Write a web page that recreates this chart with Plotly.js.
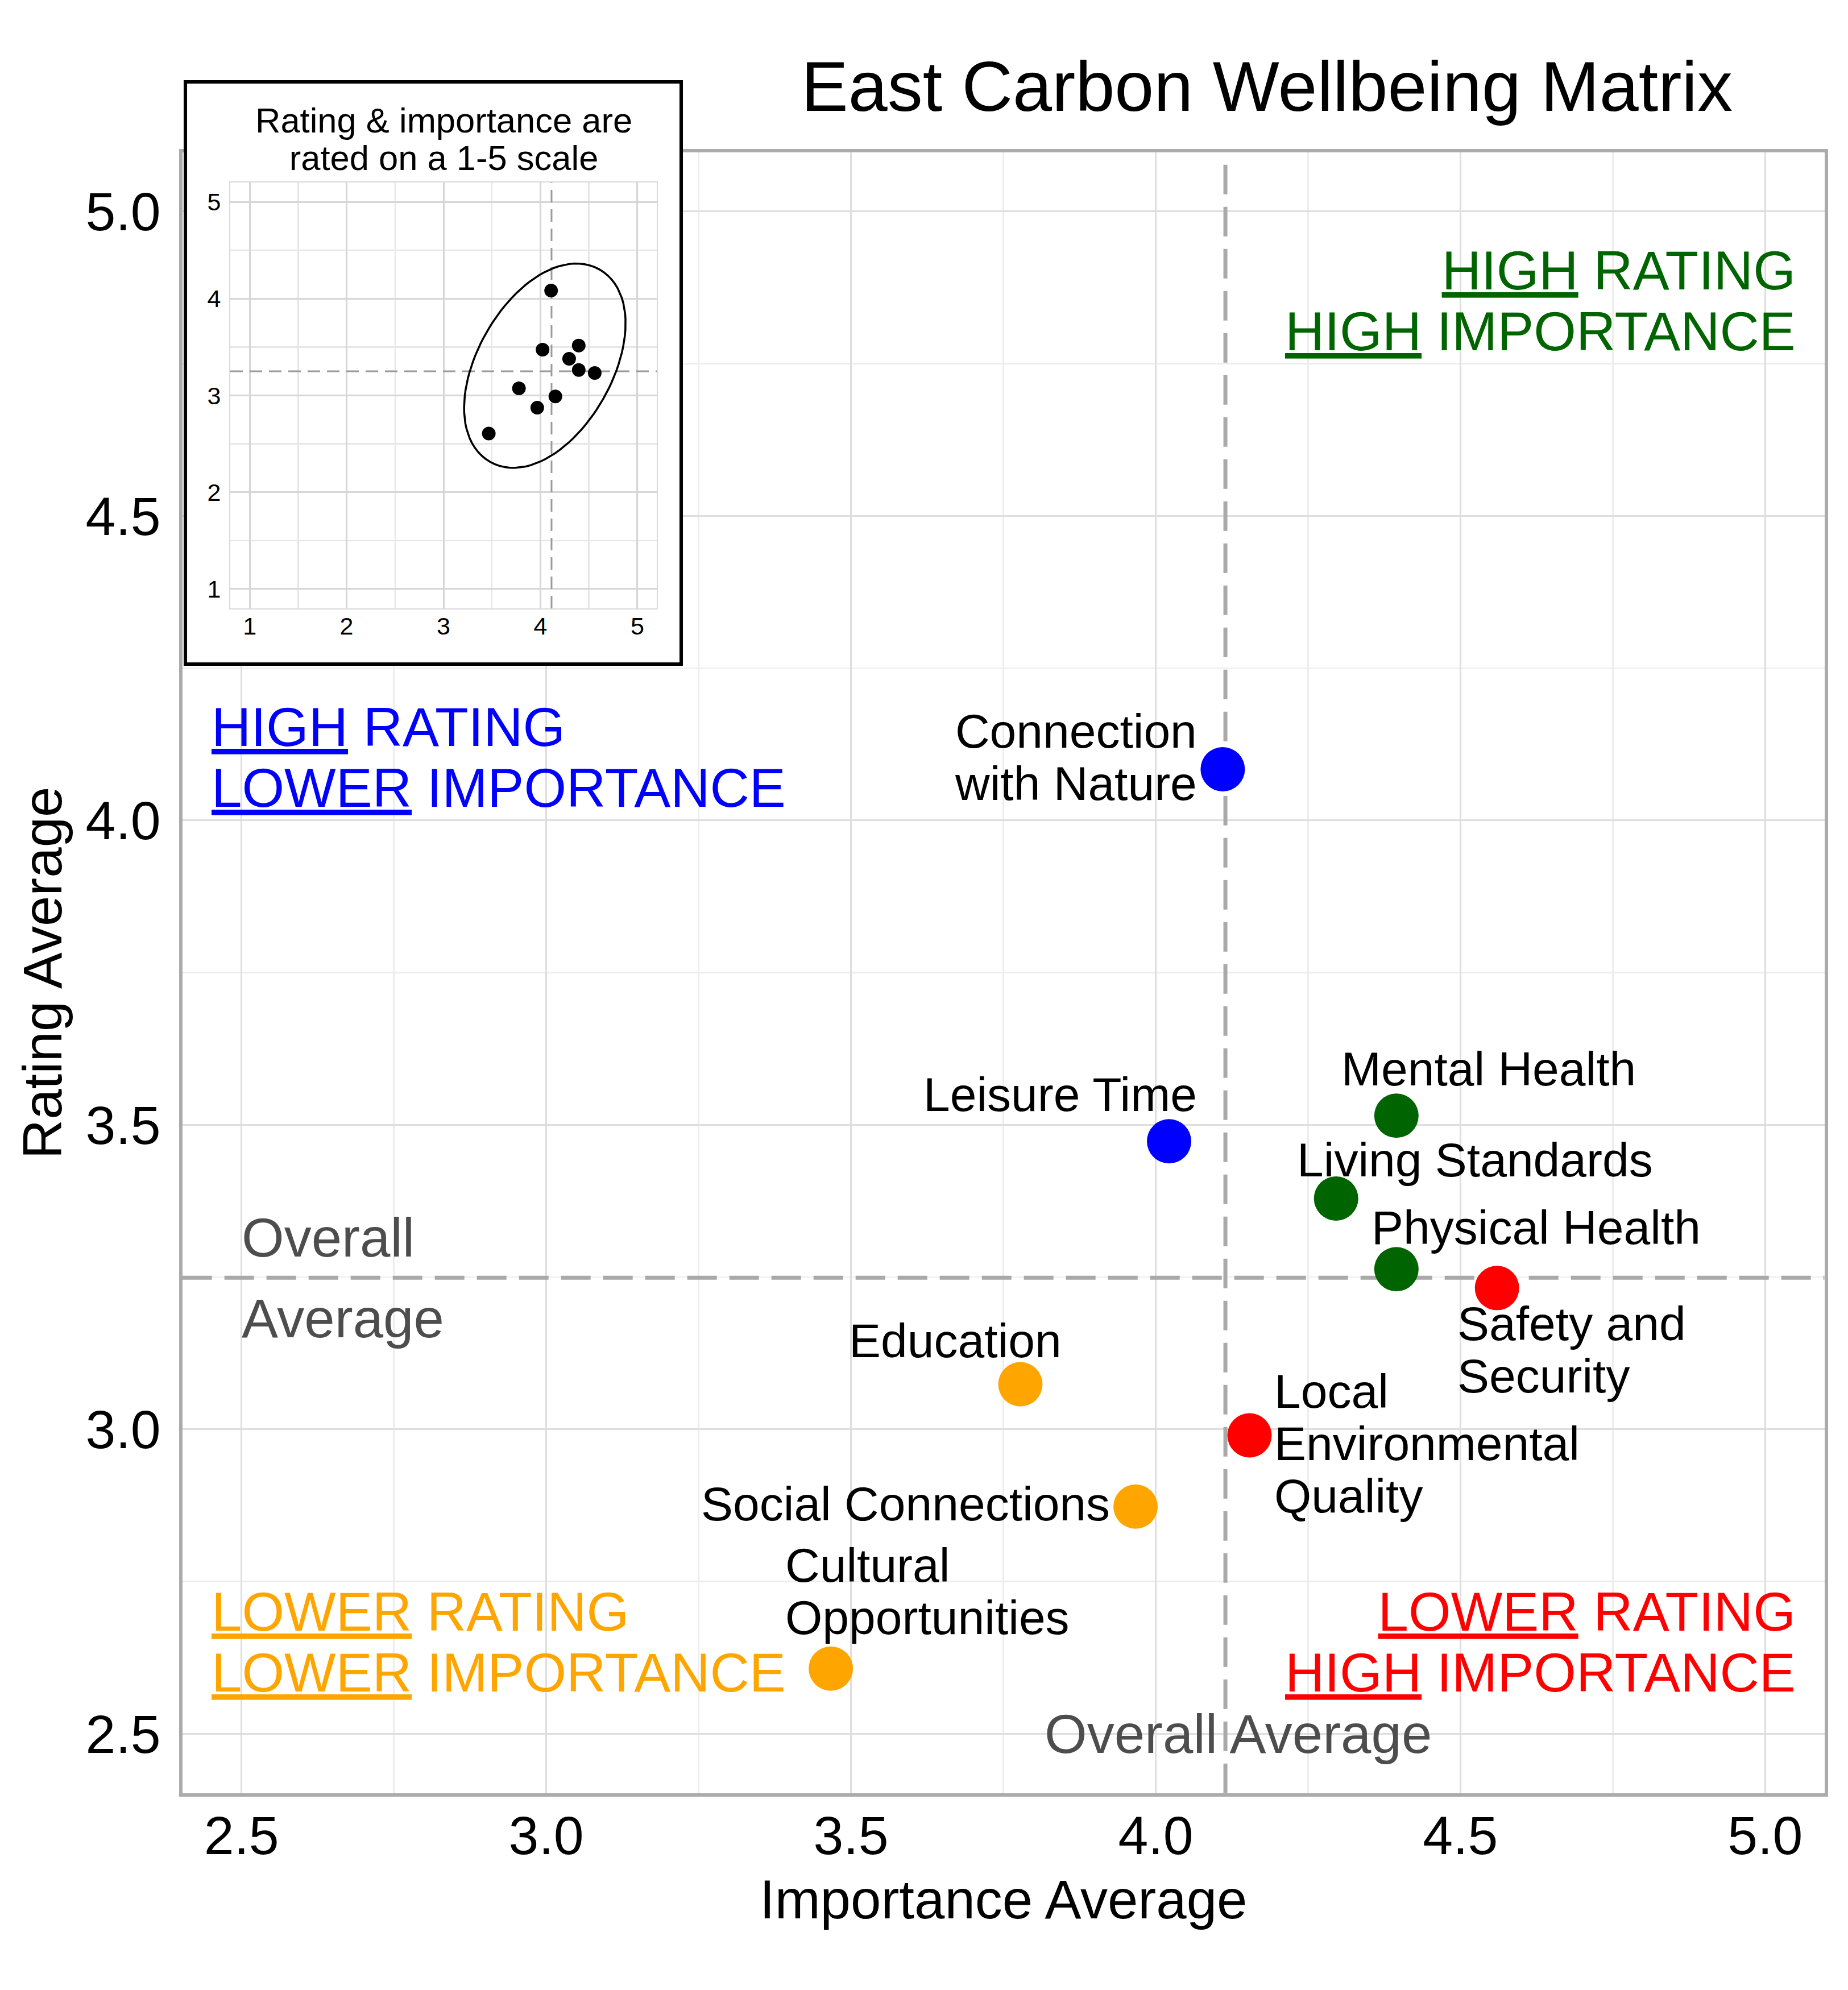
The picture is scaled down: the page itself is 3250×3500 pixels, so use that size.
<!DOCTYPE html>
<html>
<head>
<meta charset="utf-8">
<script src="https://cdn.plot.ly/plotly-3.0.1.min.js"></script>
<style>
html, body { margin: 0; padding: 0; background: #ffffff; }
#chart { width: 3250px; height: 3500px; }
</style>
</head>
<body>
<div id="chart"></div>
<script>
// ---------------- DATA ----------------
const categories = [
  'Connection with Nature', 'Leisure Time', 'Mental Health', 'Living Standards',
  'Physical Health', 'Safety and Security', 'Local Environmental Quality',
  'Education', 'Social Connections', 'Cultural Opportunities'
];
const importance = [4.110, 4.022, 4.395, 4.296, 4.395, 4.560, 4.154, 3.778, 3.967, 3.467];
const rating     = [4.084, 3.473, 3.515, 3.379, 3.263, 3.232, 2.990, 3.074, 2.873, 2.607];
const labelLines = [
  ['Connection', 'with Nature'],
  ['Leisure Time'],
  ['Mental Health'],
  ['Living Standards'],
  ['Physical Health'],
  ['Safety and', 'Security'],
  ['Local', 'Environmental', 'Quality'],
  ['Education'],
  ['Social Connections'],
  ['Cultural', 'Opportunities']
];
const quadrantText = {
  hh: ['<u>HIGH</u> RATING', '<u>HIGH</u> IMPORTANCE'],
  hl: ['<u>HIGH</u> RATING', '<u>LOWER</u> IMPORTANCE'],
  ll: ['<u>LOWER</u> RATING', '<u>LOWER</u> IMPORTANCE'],
  lh: ['<u>LOWER</u> RATING', '<u>HIGH</u> IMPORTANCE']
};
const chartTitle = 'East Carbon Wellbeing Matrix';
const xTitle = 'Importance Average';
const yTitle = 'Rating Average';
const avgText = ['Overall', 'Average'];
const avgTextBottom = 'Overall Average';
const insetTitle = ['Rating &amp; importance are', 'rated on a 1-5 scale'];

// ---------------- STYLE / LAYOUT CONSTANTS ----------------
const W = 3250, H = 3500;
const FONT = 'Liberation Sans, Arial, Helvetica, sans-serif';
const quadrantColors = { hh: '#006400', hl: '#0000FF', ll: '#FFA500', lh: '#FF0000' };
const XRANGE = [2.403, 5.0974], YRANGE = [2.4025, 5.0971];
const INSET_RANGE = [0.8, 5.2];
const AVG_LABEL_X = 2.5;
const MAIN_DOM_PX = { l: 320.7, r: 3208.7, t: 268, b: 3153.7 };
const INSET_DOM_PX = { l: 405, r: 1155, t: 321, b: 1070 };
const ELLIPSE_EXPAND_PX = 34;
const LINE_SPACING = 1.3;          // plotly's multi-line spacing (em)
const LABEL_FONT = 84, LABEL_LEAD = 92;
const QUAD_FONT = 96, QUAD_LEAD = 107;
const INSET_TITLE_FONT = 61.5, INSET_TITLE_LEAD = 66;
const px2x = p => p / W;
const px2y = p => 1 - p / H;

// multi-line text with a custom line lead: glyphs at `size`, lines spaced by `lead`
function multiLine(lines, size) {
  return lines.map(l => '<span style="font-size:' + size + 'px">' + l + '</span>').join('<br>');
}

// label placement relative to its point (px; dy = vertical centre of the block, down positive)
const labelPlacement = [
  { anchor: 'right',  dx: -43, dy: -20.5 },
  { anchor: 'right',  dx: 51,  dy: -82 },
  { anchor: 'left',   dx: -99, dy: -82 },
  { anchor: 'left',   dx: -71, dy: -68 },
  { anchor: 'left',   dx: -46, dy: -73 },
  { anchor: 'left',   dx: -72, dy: 108.5 },
  { anchor: 'left',   dx: 41,  dy: 14 },
  { anchor: 'center', dx: -115, dy: -77 },
  { anchor: 'right',  dx: -43, dy: -5 },
  { anchor: 'left',   dx: -82, dy: -135.5 }
];

// ---------------- DERIVED ----------------
const mean = a => a.reduce((s, v) => s + v, 0) / a.length;
const meanX = mean(importance);
const meanY = mean(rating);
const quadOf = (x, y) => (y >= meanY ? (x >= meanX ? 'hh' : 'hl') : (x >= meanX ? 'lh' : 'll'));
const pointColors = importance.map((x, i) => quadrantColors[quadOf(x, rating[i])]);

// minimum-volume enclosing ellipse (Khachiyan), as in ggforce::geom_mark_ellipse
function inv3(m) {
  const [a, b, c] = m[0], [d, e, f] = m[1], [g, h, k] = m[2];
  const A = e * k - f * h, B = -(d * k - f * g), C = d * h - e * g;
  const det = a * A + b * B + c * C;
  return [
    [A / det, -(b * k - c * h) / det, (b * f - c * e) / det],
    [B / det, (a * k - c * g) / det, -(a * f - c * d) / det],
    [C / det, -(a * h - b * g) / det, (a * e - b * d) / det]
  ];
}
function mvee(px, py, tol) {
  const n = px.length, d = 2;
  let u = new Array(n).fill(1 / n);
  let err = tol + 1, iter = 0;
  while (err > tol && iter < 20000) {
    const X = [[0, 0, 0], [0, 0, 0], [0, 0, 0]];
    for (let i = 0; i < n; i++) {
      const q = [px[i], py[i], 1];
      for (let r = 0; r < 3; r++) for (let s = 0; s < 3; s++) X[r][s] += u[i] * q[r] * q[s];
    }
    const Xi = inv3(X);
    let jmax = 0, mmax = -Infinity;
    for (let i = 0; i < n; i++) {
      const q = [px[i], py[i], 1];
      let m = 0;
      for (let r = 0; r < 3; r++) for (let s = 0; s < 3; s++) m += q[r] * Xi[r][s] * q[s];
      if (m > mmax) { mmax = m; jmax = i; }
    }
    const step = (mmax - d - 1) / ((d + 1) * (mmax - 1));
    const nu = u.map(v => (1 - step) * v);
    nu[jmax] += step;
    err = Math.sqrt(nu.reduce((s, v, i) => s + (v - u[i]) * (v - u[i]), 0));
    u = nu; iter++;
  }
  const cx = u.reduce((s, v, i) => s + v * px[i], 0);
  const cy = u.reduce((s, v, i) => s + v * py[i], 0);
  let sxx = 0, sxy = 0, syy = 0;
  for (let i = 0; i < n; i++) {
    sxx += u[i] * px[i] * px[i]; sxy += u[i] * px[i] * py[i]; syy += u[i] * py[i] * py[i];
  }
  sxx -= cx * cx; sxy -= cx * cy; syy -= cy * cy;
  const det = sxx * syy - sxy * sxy;
  return { cx, cy, A: [[syy / det / d, -sxy / det / d], [-sxy / det / d, sxx / det / d]] };
}
function markEllipse(xs, ys, sx, sy, expand, nPts) {
  const px = xs.map(v => v * sx), py = ys.map(v => v * sy);
  const e = mvee(px, py, 0.001);
  const p = e.A[0][0], q = e.A[0][1], r = e.A[1][1];
  const mid = (p + r) / 2, rad = Math.sqrt(((p - r) / 2) ** 2 + q * q);
  const l1 = mid + rad, l2 = mid - rad;
  const th = 0.5 * Math.atan2(2 * q, p - r);
  const v1 = [Math.cos(th), Math.sin(th)], v2 = [-Math.sin(th), Math.cos(th)];
  const a1 = 1 / Math.sqrt(l1), a2 = 1 / Math.sqrt(l2);
  const ox = [], oy = [];
  for (let k = 0; k <= nPts; k++) {
    const t = k * 2 * Math.PI / nPts;
    const ct = Math.cos(t), st = Math.sin(t);
    const ex = e.cx + a1 * ct * v1[0] + a2 * st * v2[0];
    const ey = e.cy + a1 * ct * v1[1] + a2 * st * v2[1];
    let nx = (ct / a1) * v1[0] + (st / a2) * v2[0];
    let ny = (ct / a1) * v1[1] + (st / a2) * v2[1];
    const nl = Math.hypot(nx, ny); nx /= nl; ny /= nl;
    ox.push((ex + expand * nx) / sx);
    oy.push((ey + expand * ny) / sy);
  }
  return { x: ox, y: oy };
}
const insetSx = (INSET_DOM_PX.r - INSET_DOM_PX.l) / (INSET_RANGE[1] - INSET_RANGE[0]);
const insetSy = (INSET_DOM_PX.b - INSET_DOM_PX.t) / (INSET_RANGE[1] - INSET_RANGE[0]);
const ell = markEllipse(importance, rating, insetSx, insetSy, ELLIPSE_EXPAND_PX, 100);

// ---------------- TRACES ----------------
const traces = [
  {
    type: 'scatter', mode: 'markers', x: importance, y: rating, text: categories,
    xaxis: 'x', yaxis: 'y',
    marker: { size: 78, color: pointColors, line: { width: 0 } },
    hoverinfo: 'text', showlegend: false
  },
  { // empty trace to create the inset frame subplot
    type: 'scatter', mode: 'markers', x: [], y: [], xaxis: 'x2', yaxis: 'y2',
    hoverinfo: 'skip', showlegend: false
  },
  {
    type: 'scatter', mode: 'lines', x: ell.x, y: ell.y, xaxis: 'x3', yaxis: 'y3',
    line: { color: '#000000', width: 3.5 }, hoverinfo: 'skip', showlegend: false
  },
  {
    type: 'scatter', mode: 'markers', x: importance, y: rating, xaxis: 'x3', yaxis: 'y3',
    marker: { size: 24, color: '#000000' }, hoverinfo: 'skip', showlegend: false
  }
];

// ---------------- ANNOTATIONS ----------------
const annotations = [];
labelLines.forEach((lines, i) => {
  const pl = labelPlacement[i];
  annotations.push({
    x: importance[i], y: rating[i], xref: 'x', yref: 'y',
    text: multiLine(lines, LABEL_FONT), showarrow: false,
    xanchor: pl.anchor, yanchor: 'middle', align: pl.anchor,
    xshift: pl.dx, yshift: -pl.dy,
    font: { family: FONT, size: LABEL_LEAD / LINE_SPACING, color: '#000000' }
  });
});
const quadPlacement = {
  hh: { x: 3160, anchor: 'right', y: 528.5 },
  hl: { x: 370,  anchor: 'left',  y: 1331.5 },
  ll: { x: 370,  anchor: 'left',  y: 2887.5 },
  lh: { x: 3160, anchor: 'right', y: 2887.5 }
};
Object.keys(quadPlacement).forEach(k => {
  const q = quadPlacement[k];
  annotations.push({
    x: px2x(q.x), y: px2y(q.y), xref: 'paper', yref: 'paper',
    text: multiLine(quadrantText[k], QUAD_FONT), showarrow: false,
    xanchor: q.anchor, yanchor: 'middle', align: q.anchor,
    font: { family: FONT, size: QUAD_LEAD / LINE_SPACING, color: quadrantColors[k] }
  });
});
annotations.push({
  x: AVG_LABEL_X, y: meanY, xref: 'x', yref: 'y', text: avgText[0], showarrow: false,
  xanchor: 'left', yanchor: 'middle', yshift: 71, xshift: -1.5,
  font: { family: FONT, size: 96, color: '#4D4D4D' }
});
annotations.push({
  x: AVG_LABEL_X, y: meanY, xref: 'x', yref: 'y', text: avgText[1], showarrow: false,
  xanchor: 'left', yanchor: 'middle', yshift: -71, xshift: -1.5,
  font: { family: FONT, size: 96, color: '#4D4D4D' }
});
annotations.push({
  x: meanX, y: 2.5, xref: 'x', yref: 'y', text: avgTextBottom, showarrow: false,
  xanchor: 'center', yanchor: 'middle', xshift: 22,
  font: { family: FONT, size: 96, color: '#4D4D4D' }
});
annotations.push({
  x: px2x(780), y: px2y(244), xref: 'paper', yref: 'paper',
  text: multiLine(insetTitle, INSET_TITLE_FONT), showarrow: false,
  xanchor: 'center', yanchor: 'middle', align: 'center',
  font: { family: FONT, size: INSET_TITLE_LEAD / LINE_SPACING, color: '#000000' }
});

// ---------------- SHAPES ----------------
const shapes = [
  { type: 'line', xref: 'x', yref: 'y', layer: 'between', x0: meanX, x1: meanX, y0: YRANGE[0], y1: YRANGE[1],
    line: { color: '#A9A9A9', width: 7, dash: '52px,22px' } },
  { type: 'line', xref: 'x', yref: 'y', layer: 'between', x0: XRANGE[0], x1: XRANGE[1], y0: meanY, y1: meanY,
    line: { color: '#A9A9A9', width: 7, dash: '52px,22px' } },
  { type: 'line', xref: 'x3', yref: 'y3', layer: 'between', x0: meanX, x1: meanX, y0: INSET_RANGE[0], y1: INSET_RANGE[1],
    line: { color: '#9A9A9A', width: 3, dash: '22px,12px' } },
  { type: 'line', xref: 'x3', yref: 'y3', layer: 'between', x0: INSET_RANGE[0], x1: INSET_RANGE[1], y0: meanY, y1: meanY,
    line: { color: '#9A9A9A', width: 3, dash: '22px,12px' } }
];

// ---------------- LAYOUT ----------------
const mainAxis = (domain, range, title, standoff, lblStandoff) => ({
  domain: domain, range: range, autorange: false,
  tick0: 2.5, dtick: 0.5, tickformat: '.1f',
  showgrid: true, gridcolor: '#DEDEDE', gridwidth: 3,
  minor: { dtick: 0.25, showgrid: true, gridcolor: '#EDEDED', gridwidth: 2.5, ticks: '' },
  zeroline: false, showline: true, mirror: true, linecolor: '#ABABAB', linewidth: 6,
  ticks: '', ticklabelstandoff: lblStandoff,
  tickfont: { family: FONT, size: 95, color: '#000000' },
  title: { text: title, font: { family: FONT, size: 96, color: '#000000' }, standoff: standoff },
  automargin: false, fixedrange: true
});

const layout = {
  width: W, height: H,
  margin: { l: 0, r: 0, t: 0, b: 0, pad: 0 },
  paper_bgcolor: '#FFFFFF', plot_bgcolor: '#FFFFFF',
  font: { family: FONT, color: '#000000' },
  showlegend: false, hovermode: false,
  title: {
    text: chartTitle, font: { family: FONT, size: 124, color: '#000000' },
    x: px2x(2228), xref: 'paper', xanchor: 'center',
    y: px2y(152), yref: 'paper', yanchor: 'middle'
  },
  xaxis: Object.assign(mainAxis([px2x(MAIN_DOM_PX.l), px2x(MAIN_DOM_PX.r)], XRANGE, xTitle, 29, -13), { anchor: 'y' }),
  yaxis: Object.assign(mainAxis([px2y(MAIN_DOM_PX.b), px2y(MAIN_DOM_PX.t)], YRANGE, yTitle, 12, 13), { anchor: 'x' }),
  xaxis2: {
    domain: [px2x(329), px2x(1195)], range: [0, 1], anchor: 'y2',
    showgrid: false, zeroline: false, showticklabels: false, ticks: '',
    showline: true, mirror: true, linecolor: '#000000', linewidth: 6, fixedrange: true
  },
  yaxis2: {
    domain: [px2y(1164.5), px2y(146.5)], range: [0, 1], anchor: 'x2',
    showgrid: false, zeroline: false, showticklabels: false, ticks: '',
    showline: true, mirror: true, linecolor: '#000000', linewidth: 6, fixedrange: true
  },
  xaxis3: {
    domain: [px2x(INSET_DOM_PX.l), px2x(INSET_DOM_PX.r)], range: INSET_RANGE, autorange: false, anchor: 'y3',
    tick0: 1, dtick: 1,
    showgrid: true, gridcolor: '#D6D6D6', gridwidth: 3,
    minor: { dtick: 0.5, showgrid: true, gridcolor: '#E6E6E6', gridwidth: 2.5, ticks: '' },
    zeroline: false, showline: true, mirror: true, linecolor: '#DADADA', linewidth: 2,
    ticks: '', ticklabelstandoff: -8,
    tickfont: { family: FONT, size: 43, color: '#000000' }, fixedrange: true, automargin: false
  },
  yaxis3: {
    domain: [px2y(INSET_DOM_PX.b), px2y(INSET_DOM_PX.t)], range: INSET_RANGE, autorange: false, anchor: 'x3',
    tick0: 1, dtick: 1,
    showgrid: true, gridcolor: '#D6D6D6', gridwidth: 3,
    minor: { dtick: 0.5, showgrid: true, gridcolor: '#E6E6E6', gridwidth: 2.5, ticks: '' },
    zeroline: false, showline: true, mirror: true, linecolor: '#DADADA', linewidth: 2,
    ticks: '', ticklabelstandoff: 6,
    tickfont: { family: FONT, size: 43, color: '#000000' }, fixedrange: true, automargin: false
  },
  annotations: annotations,
  shapes: shapes
};

Plotly.newPlot('chart', traces, layout, { staticPlot: true, displayModeBar: false });
</script>
</body>
</html>
